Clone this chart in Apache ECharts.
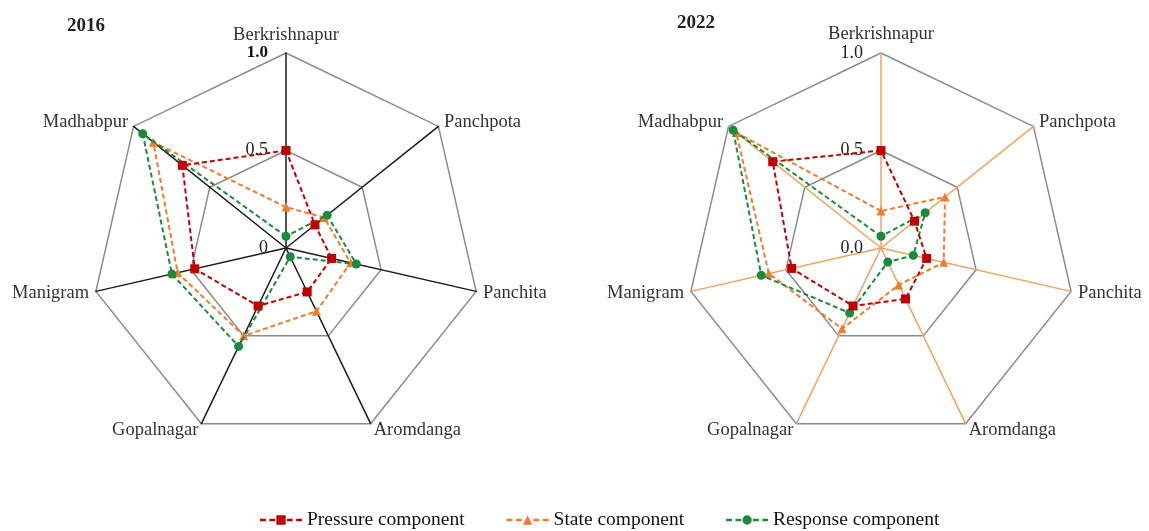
<!DOCTYPE html>
<html>
<head>
<meta charset="utf-8">
<script src="https://cdn.jsdelivr.net/npm/echarts@6/dist/echarts.min.js"></script>
<style>
  html, body { margin: 0; background: #fff; }
  #main { width: 1149px; height: 531px; }
</style>
</head>
<body>
<div id="main"></div>
<script>
// villages in the order echarts walks round a radar (anticlockwise from the top)
const villages = ['Berkrishnapur', 'Madhabpur', 'Manigram', 'Gopalnagar', 'Aromdanga', 'Panchita', 'Panchpota'];
const components = ['Pressure component', 'State component', 'Response component'];
const years = ['2016', '2022'];
const ticks2016 = ['0', '0.5', '1.0'];
const ticks2022 = ['0.0', '0.5', '1.0'];

const pressure2016 = [0.50, 0.68, 0.48, 0.33, 0.25, 0.24, 0.19];
const state2016    = [0.21, 0.87, 0.57, 0.50, 0.36, 0.34, 0.25];
const response2016 = [0.06, 0.94, 0.60, 0.56, 0.05, 0.37, 0.27];

const pressure2022 = [0.50, 0.71, 0.47, 0.33, 0.29, 0.24, 0.22];
const state2022    = [0.19, 0.95, 0.59, 0.46, 0.21, 0.33, 0.42];
const response2022 = [0.06, 0.97, 0.63, 0.37, 0.08, 0.17, 0.29];

const values = [
  [pressure2016, state2016, response2016],
  [pressure2022, state2022, response2022]
];

const colors = ['#c00000', '#f07c30', '#1a8a3c'];
const symbols = ['rect', 'triangle', 'circle'];
const symbolSizes = [9, 9, 9];
// legend icons: dash dash marker dash dash
const legendIcons = [
  'path://M0,4H5V6H0Z M8,4H13V6H8Z M14,1H22V9H14Z M23,4H28V6H23Z M31,4H36V6H31Z',
  'path://M0,4H5V6H0Z M8,4H13V6H8Z M14,9L18,1L22,9Z M23,4H28V6H23Z M31,4H36V6H31Z',
  'path://M0,4H5V6H0Z M8,4H13V6H8Z M14,5A4,4,0,1,1,22,5A4,4,0,1,1,14,5Z M23,4H28V6H23Z M31,4H36V6H31Z'
];

const serif = 'Liberation Serif';
const chart = echarts.init(document.getElementById('main'));

function makeRadar(cx, spokeColor, ticks, boldTop) {
  return {
    center: [cx, 248],
    radius: 195,
    shape: 'polygon',
    splitNumber: 2,
    startAngle: 90,
    nameGap: 7,
    axisName: { color: '#333', fontFamily: serif, fontSize: 18.5 },
    indicator: villages.map((v, i) => ({ name: v, min: 0, max: 1, axisLabel: { show: i === 0 } })),
    axisLine: { lineStyle: { color: spokeColor, width: 1.5 } },
    splitLine: { lineStyle: { color: '#8a8a8a', width: 1.5 } },
    splitArea: { show: false },
    axisTick: { show: false },
    axisLabel: {
      show: false,
      fontFamily: serif,
      fontSize: 18,
      color: '#222',
      margin: 18,
      formatter: (val) => {
        const idx = Math.round(val * 2);
        return boldTop && idx === 2 ? '{b|' + ticks[idx] + '}' : ticks[idx];
      },
      rich: { b: { fontWeight: 'bold', fontFamily: serif, fontSize: 17, color: '#111' } }
    }
  };
}

let option = {
  backgroundColor: '#fff',
  title: [
    { text: years[0], left: 62, top: 12, textStyle: { fontFamily: serif, fontSize: 19, fontWeight: 'bold', color: '#222' } },
    { text: years[1], left: 672, top: 9, textStyle: { fontFamily: serif, fontSize: 19, fontWeight: 'bold', color: '#222' } }
  ],
  legend: {
    bottom: -4,
    left: 255,
    itemGap: 42,
    itemWidth: 42,
    itemHeight: 11,
    textStyle: { fontFamily: serif, fontSize: 19.5, color: '#111' },
    data: components.map((c, k) => ({ name: c, icon: legendIcons[k] }))
  },
  radar: [
    makeRadar(286, '#1a1a1a', ticks2016, true),
    makeRadar(881, '#f5a05e', ticks2022, false)
  ],
  series: []
};

// draw order: state at the back, response, pressure on top
const zOrder = [4, 2, 3];
years.forEach((y, r) => {
  components.forEach((c, k) => {
    option.series.push({
      type: 'radar',
      radarIndex: r,
      name: c,
      z: zOrder[k],
      symbol: symbols[k],
      symbolSize: symbolSizes[k],
      lineStyle: { type: [5, 3], width: 2, color: colors[k] },
      itemStyle: { color: colors[k] },
      data: [{ name: c, value: values[r][k] }]
    });
  });
});

chart.setOption(option);
</script>
</body>
</html>
